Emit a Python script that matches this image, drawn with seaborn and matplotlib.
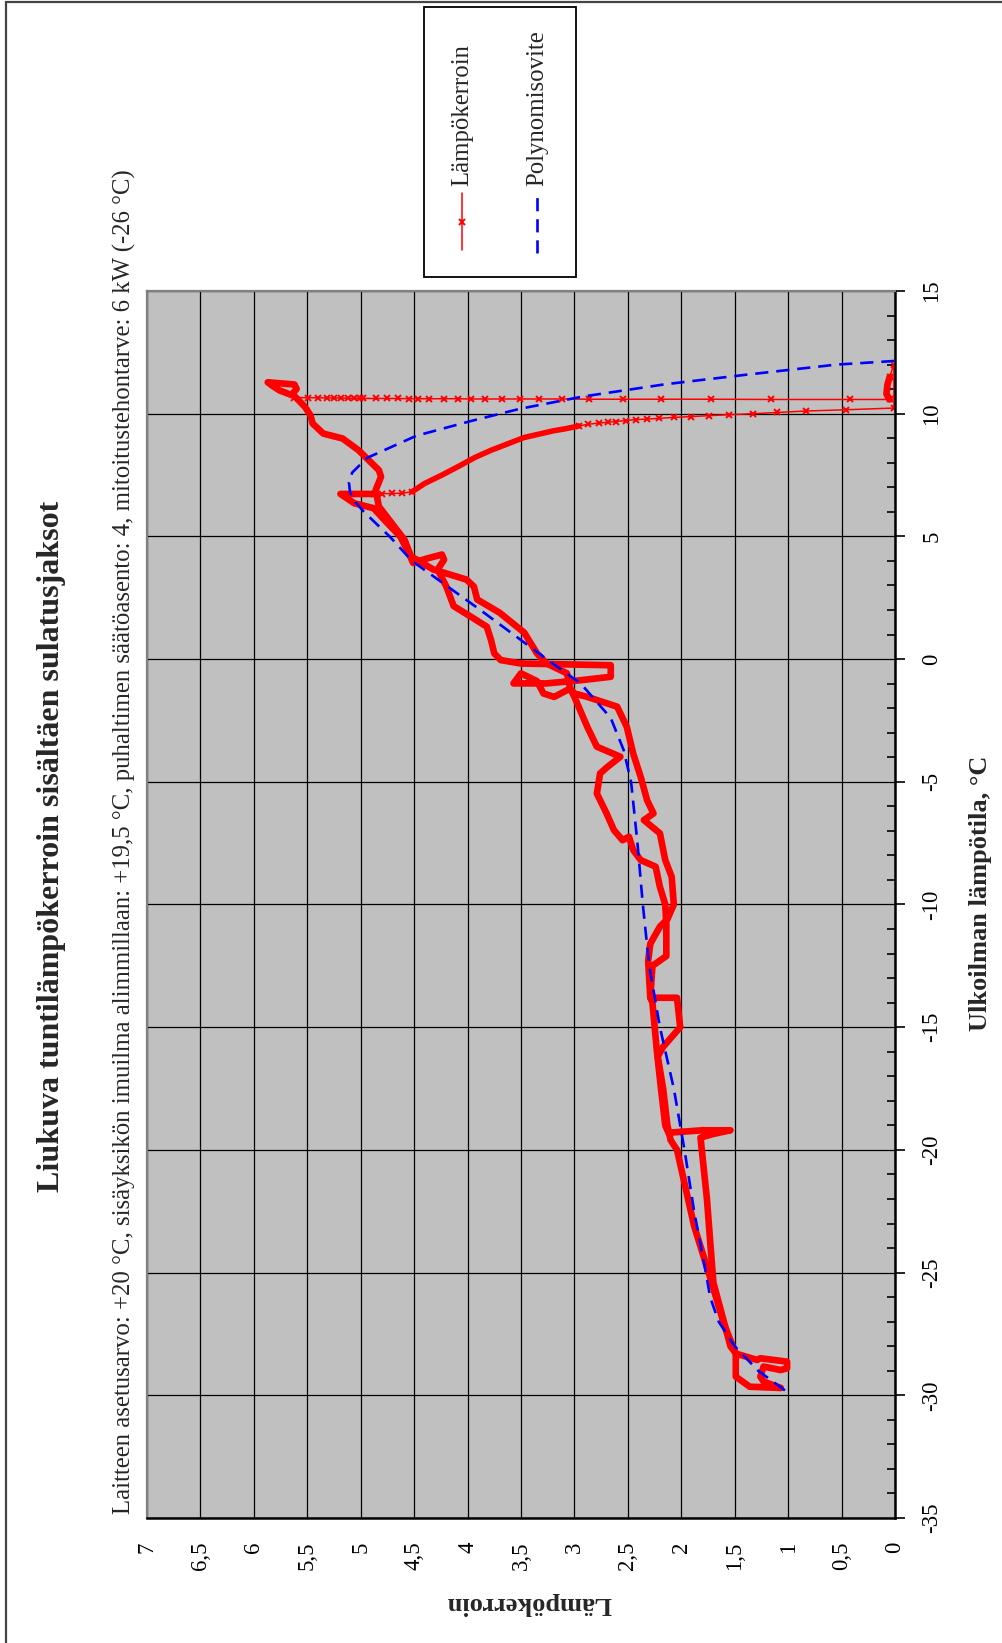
import numpy as np
import matplotlib
matplotlib.use("Agg")
import matplotlib.pyplot as plt
import seaborn as sns
from matplotlib.patches import Rectangle
from matplotlib.lines import Line2D
from matplotlib.ticker import MultipleLocator

#%% data (T = outdoor temp, cop = Lämpökerroin)

# thick trace, from the cold end up to the peak
up_T = [-29.70, -29.65, -29.24, -28.29, -28.00, -25.40, -22.00, -19.50, -19.35, -19.20,
        -19.20, -19.30, -19.00, -17.50, -15.90, -14.00, -13.80, -12.30, -11.60, -10.90,
        -10.60, -10.00, -8.87, -8.19, -7.10, -6.56, -6.29, -5.75, -4.80, -3.85,
        -2.76, -1.94, -1.54, -1.40, -1.20, -0.58, -0.18, 0.23, 1.08, 1.89,
        2.43, 2.95, 3.24, 3.65, 4.19, 4.86, 5.54, 6.22, 6.89, 7.43,
        7.70, 8.51, 8.99, 9.19, 9.60, 9.93, 10.27, 10.81, 11.01, 11.19,
        11.28, 11.15, 10.95, 10.75]
up_cop = [1.07, 1.36, 1.49, 1.49, 1.54, 1.70, 1.76, 1.82, 1.70, 1.54,
          1.80, 2.12, 2.15, 2.19, 2.23, 2.27, 2.29, 2.31, 2.29, 2.20,
          2.13, 2.07, 2.09, 2.15, 2.20, 2.35, 2.26, 2.32, 2.38, 2.45,
          2.51, 2.60, 2.88, 3.00, 3.04, 3.07, 3.26, 3.35, 3.47, 3.70,
          3.91, 3.94, 4.01, 4.32, 4.53, 4.59, 4.71, 4.83, 4.86, 4.81,
          4.83, 5.02, 5.17, 5.35, 5.45, 5.47, 5.52, 5.64, 5.60, 5.62,
          5.87, 5.83, 5.76, 5.64]

# sparse samples along +10.6 C
decay1_cop = [5.62, 5.49, 5.40, 5.32, 5.25, 5.18, 5.12, 5.06, 5.01, 4.98,
              4.86, 4.75, 4.65, 4.55, 4.46, 4.36, 4.22, 4.09, 3.97, 3.84,
              3.68, 3.51, 3.33, 3.12, 2.86, 2.55, 2.19, 1.72, 1.16, 0.42, 0.05]
decay1_T = [10.66, 10.65, 10.65, 10.64, 10.64, 10.64, 10.63, 10.63, 10.63, 10.62,
            10.62, 10.62, 10.62, 10.61, 10.61, 10.61, 10.61, 10.61, 10.60, 10.60,
            10.60, 10.60, 10.60, 10.60, 10.59, 10.59, 10.59, 10.59, 10.58, 10.58, 10.58]

spike_T = [10.58, 10.80, 11.20, 11.50]
spike_cop = [0.05, 0.08, 0.07, 0.05]

decay2_T = [11.50, 12.00, 10.23, 10.16, 10.11, 10.05, 10.00, 9.96, 9.92, 9.88,
            9.85, 9.81, 9.78, 9.76, 9.72, 9.68, 9.65, 9.62, 9.57, 9.50]
decay2_cop = [0.05, 0.01, 0.01, 0.46, 0.83, 1.10, 1.33, 1.55, 1.74, 1.91,
              2.07, 2.21, 2.32, 2.42, 2.52, 2.61, 2.69, 2.77, 2.87, 2.96]

back_T = [9.50, 9.39, 9.30, 9.19, 9.03, 8.78, 8.51, 8.22, 7.84, 7.50, 7.16, 6.82]
back_cop = [2.96, 3.08, 3.20, 3.31, 3.47, 3.62, 3.78, 3.93, 4.09, 4.24, 4.40, 4.52]

tip_T = [6.82, 6.76, 6.75, 6.74, 6.73]
tip_cop = [4.52, 4.61, 4.71, 4.80, 4.88]

# thick trace, from the tip back down to the cold end
down_T = [6.73, 6.73, 6.35, 6.15, 5.54, 5.00, 4.32, 3.92, 4.10, 4.26,
          4.05, 3.65, 2.97, 2.16, 1.73, 1.32, 0.77, 0.23, -0.04, -0.18,
          -0.25, -0.72, -0.86, -0.99, -0.99, -0.58, -0.90, -1.40, -1.54, -1.20,
          -1.54, -2.76, -3.57, -3.98, -4.39, -4.66, -5.48, -6.28, -6.97, -7.38,
          -7.24, -7.78, -8.19, -8.46, -9.28, -10.00, -10.80, -12.10, -12.50, -13.80,
          -13.80, -15.00, -15.80, -16.20, -17.50, -19.00, -19.60, -20.00, -23.10, -25.20,
          -27.10, -28.30, -28.56, -28.49, -28.63, -28.90, -28.97, -28.83, -29.24, -29.44, -29.70]
down_cop = [4.88, 5.19, 5.06, 4.88, 4.75, 4.63, 4.55, 4.51, 4.38, 4.24,
            4.22, 4.28, 4.20, 4.13, 3.97, 3.82, 3.78, 3.75, 3.69, 3.50,
            2.66, 2.66, 2.94, 3.26, 3.57, 3.50, 3.35, 3.29, 3.19, 3.04,
            3.00, 2.88, 2.79, 2.57, 2.69, 2.76, 2.79, 2.70, 2.63, 2.55,
            2.49, 2.45, 2.38, 2.24, 2.20, 2.15, 2.14, 2.14, 2.27, 2.29,
            2.04, 2.01, 2.17, 2.22, 2.17, 2.13, 2.10, 2.04, 1.88, 1.73,
            1.60, 1.49, 1.29, 1.26, 1.01, 1.01, 1.07, 1.23, 1.26, 1.23, 1.07]

# polynomial fit (dashed blue)
fit_T = [-29.8, -29.0, -28.0, -27.0, -26.0, -25.0, -22.5, -20.0, -17.5, -15.0,
         -12.5, -10.0, -7.5, -5.0, -3.7, -2.4, -1.0, 0.0, 1.0, 2.0,
         3.0, 4.0, 5.0, 6.0, 6.4, 6.8, 7.2, 7.6, 8.2, 9.1,
         9.7, 10.2, 10.7, 11.2, 11.6, 12.0, 12.15]
fit_cop = [1.03, 1.28, 1.50, 1.65, 1.73, 1.77, 1.88, 1.97, 2.07, 2.20,
           2.30, 2.36, 2.41, 2.47, 2.54, 2.66, 2.94, 3.26, 3.57, 3.88,
           4.20, 4.52, 4.73, 4.97, 5.05, 5.10, 5.11, 5.08, 4.94, 4.48,
           3.97, 3.51, 2.92, 2.15, 1.37, 0.55, 0.00]

cop_ticks = [0, 0.5, 1, 1.5, 2, 2.5, 3, 3.5, 4, 4.5, 5, 5.5, 6, 6.5, 7]
cop_labels = ['0', '0,5', '1', '1,5', '2', '2,5', '3', '3,5', '4', '4,5', '5', '5,5', '6', '6,5', '7']
temp_ticks = [-35, -30, -25, -20, -15, -10, -5, 0, 5, 10, 15]
temp_labels = ['-35', '-30', '-25', '-20', '-15', '-10', '-5', '0', '5', '10', '15']

title = 'Liukuva tuntilämpökerroin sisältäen sulatusjaksot'
subtitle = ('Laitteen asetusarvo: +20 °C, sisäyksikön imuilma alimmillaan: +19,5 °C, '
            'puhaltimen säätöasento: 4, mitoitustehontarve: 6 kW (-26 °C)')

#%% figure
sns.set_style('white')
plt.rcParams['font.family'] = ['Liberation Serif', 'DejaVu Serif']

W, H = 1002, 1643
fig = plt.figure(figsize=(W / 100, H / 100), dpi=100)


def fx(x):
    return x / W


def fy(y):
    return 1 - y / H


# the whole chart is turned a quarter turn: temperature runs up the page
ax = fig.add_axes([fx(147), fy(1518), (895 - 147) / W, (1518 - 291) / H])
ax.set_facecolor('#c0c0c0')

thick = dict(color='red', lw=4.8, solid_capstyle='round', solid_joinstyle='round',
             sort=False, estimator=None, ax=ax)
thin = dict(color='red', lw=1.1, marker='x', markersize=4.5, markeredgewidth=1.4,
            markeredgecolor='red', sort=False, estimator=None, ax=ax)

sns.lineplot(x=up_cop, y=up_T, **thick)
sns.lineplot(x=decay1_cop, y=decay1_T, **thin)
sns.lineplot(x=spike_cop, y=spike_T, **thick)
sns.lineplot(x=decay2_cop, y=decay2_T, **thin)
sns.lineplot(x=back_cop, y=back_T, color='red', lw=4.0, sort=False, estimator=None, ax=ax)
sns.lineplot(x=tip_cop, y=tip_T, **thin)
sns.lineplot(x=down_cop, y=down_T, **thick)

blue_dash = (0, (5.0, 3.0))
sns.lineplot(x=fit_cop, y=fit_T, color='blue', lw=1.9, linestyle=blue_dash,
             sort=False, estimator=None, ax=ax, zorder=3)

ax.set_xlim(7, 0)
ax.set_ylim(-35, 15)
ax.set_xticks(cop_ticks)
ax.set_xticklabels(cop_labels)
ax.yaxis.tick_right()
ax.set_yticks(temp_ticks)
ax.set_yticklabels(temp_labels)
ax.yaxis.set_minor_locator(MultipleLocator(1))
ax.set_xlabel('')
ax.set_ylabel('')

ax.tick_params(axis='x', direction='out', length=8, width=1.2, labelsize=16.5,
               labelrotation=90, pad=9, colors='black')
ax.tick_params(axis='y', which='major', direction='out', length=7, width=1.2,
               labelsize=16.5, labelrotation=90, pad=12, colors='black')
ax.tick_params(axis='y', which='minor', direction='in', length=6, width=1.2, colors='black')
for lbl in ax.get_yticklabels():
    lbl.set_va('center')

ax.grid(True, which='major', color='black', lw=0.9)
ax.set_axisbelow(True)
for side in ['left', 'top']:
    ax.spines[side].set_color('#808080')
    ax.spines[side].set_linewidth(1.6)
for side in ['right', 'bottom']:
    ax.spines[side].set_color('black')
    ax.spines[side].set_linewidth(1.8)

# texts
fig.text(fx(52), fy(846), title, rotation=90, ha='center', va='center',
         fontsize=23, fontweight='bold')
fig.text(fx(124), fy(1514), subtitle, rotation=90, ha='center', va='bottom', fontsize=17.8)
fig.text(fx(981), fy(893), 'Ulkoilman lämpötila, °C', rotation=90, ha='center', va='center',
         fontsize=19, fontweight='bold')
fig.text(fx(529), fy(1604), 'Lämpökerroin', rotation=180, ha='center', va='center',
         fontsize=19, fontweight='bold')

# legend box, drawn by hand because it is turned as well
fig.add_artist(Rectangle((fx(424), fy(277)), (576 - 424) / W, (277 - 7) / H,
                         transform=fig.transFigure, facecolor='white',
                         edgecolor='black', lw=1.3))
fig.add_artist(Line2D([fx(462), fx(462)], [fy(250), fy(193)], transform=fig.transFigure,
                      color='red', lw=1.1))
fig.add_artist(Line2D([fx(462)], [fy(222)], transform=fig.transFigure, color='red',
                      marker='x', markersize=4.5, markeredgewidth=1.4, lw=0))
fig.add_artist(Line2D([fx(537), fx(537)], [fy(253), fy(193)], transform=fig.transFigure,
                      color='blue', lw=1.9, linestyle=blue_dash))
fig.text(fx(462), fy(186), 'Lämpökerroin', rotation=90, ha='center', va='bottom', fontsize=17.8)
fig.text(fx(537), fy(186), 'Polynomisovite', rotation=90, ha='center', va='bottom', fontsize=17.8)

# page frame (only the left and top edges fall inside the picture)
fig.add_artist(Rectangle((fx(6), -0.05), 1.2, fy(2) + 0.05, transform=fig.transFigure,
                         fill=False, edgecolor='#454545', lw=1.6))

fig.savefig('out.png', dpi=100)
